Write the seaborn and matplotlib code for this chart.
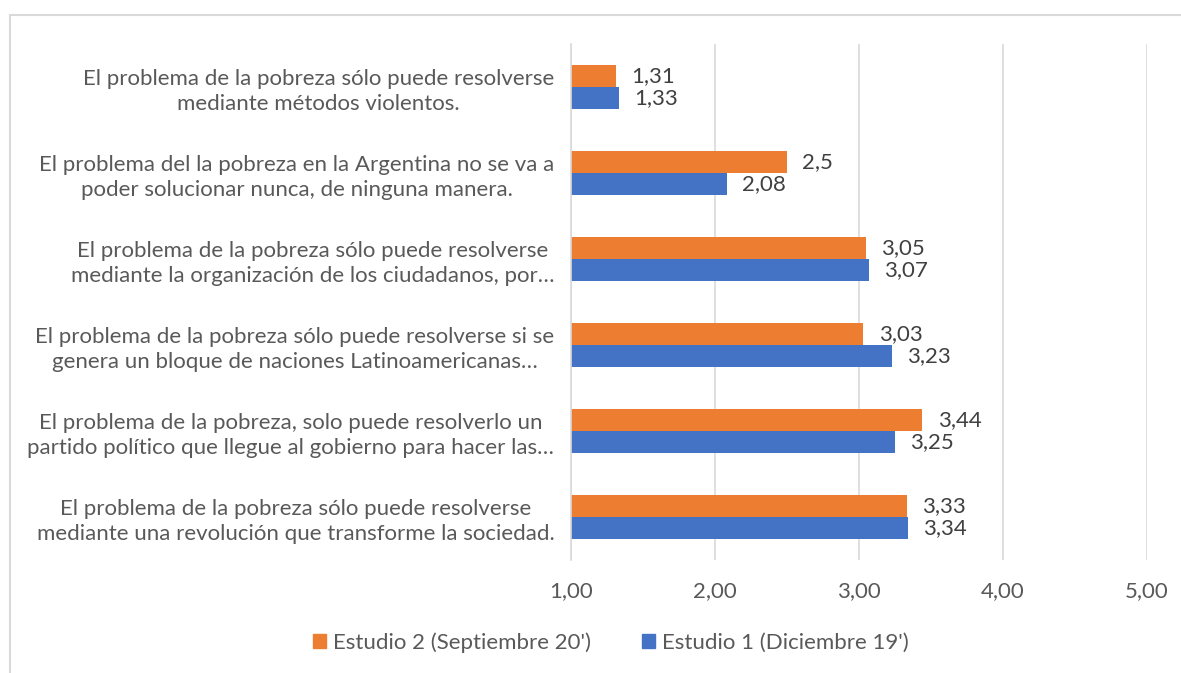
import pandas as pd
import matplotlib.pyplot as plt
import seaborn as sns
from matplotlib.patches import Rectangle

# Data
categorias = [
    'El problema de la pobreza sólo puede resolverse\nmediante métodos violentos.',
    'El problema del la pobreza en la Argentina no se va a\npoder solucionar nunca, de ninguna manera.',
    'El problema de la pobreza sólo puede resolverse\nmediante la organización de los ciudadanos, por…',
    'El problema de la pobreza sólo puede resolverse si se\ngenera un bloque de naciones Latinoamericanas…',
    'El problema de la pobreza, solo puede resolverlo un\npartido político que llegue al gobierno para hacer las…',
    'El problema de la pobreza sólo puede resolverse\nmediante una revolución que transforme la sociedad.',
]
estudio2 = [1.31, 2.5, 3.05, 3.03, 3.44, 3.33]
estudio1 = [1.33, 2.08, 3.07, 3.23, 3.25, 3.34]
series = ["Estudio 2 (Septiembre 20')", "Estudio 1 (Diciembre 19')"]
colores = ['#ED7D31', '#4472C4']
xticks = [1, 2, 3, 4, 5]

df = pd.DataFrame({
    'categoria': categorias * 2,
    'valor': estudio2 + estudio1,
    'serie': [series[0]] * len(categorias) + [series[1]] * len(categorias),
})

sns.set_style('white')
plt.rcParams['font.family'] = ['Lato', 'DejaVu Sans']
texto = '#595959'
fs = 16

fig = plt.figure(figsize=(11.81, 6.73), dpi=100)
ax = fig.add_axes([0.4835, 0.168, 0.4877, 0.767])

sns.barplot(data=df, y='categoria', x='valor', hue='serie', order=categorias,
            hue_order=series, palette=colores, orient='h', width=0.51,
            gap=0, saturation=1, ax=ax, edgecolor='none')

ax.set_xlim(1, 5)
ax.set_xticks(xticks)
ax.set_xticklabels([f'{t:.2f}'.replace('.', ',') for t in xticks])
ax.xaxis.grid(True, color='#d9d9d9', linewidth=1.2)
ax.set_axisbelow(True)
for s in ['top', 'right', 'bottom']:
    ax.spines[s].set_visible(False)
ax.spines['left'].set_color('#d9d9d9')
ax.spines['left'].set_linewidth(1.2)
ax.tick_params(axis='x', length=0, pad=15, labelsize=fs, labelcolor=texto)
ax.tick_params(axis='y', length=0, pad=12, labelsize=fs, labelcolor=texto)
for lbl in ax.get_yticklabels():
    lbl.set_multialignment('center')
    lbl.set_linespacing(1.3)
ax.set_xlabel('')
ax.set_ylabel('')

for cont in ax.containers:
    etiquetas = [f'{v:g}'.replace('.', ',') for v in cont.datavalues]
    ax.bar_label(cont, labels=etiquetas, padding=11, fontsize=fs, color='#404040')

ax.legend_.remove()
handles = [Rectangle((0, 0), 1, 1, color=c) for c in colores]
fig.legend(handles, series, loc='center', bbox_to_anchor=(0.517, 0.045), ncol=2,
           frameon=False, fontsize=fs, labelcolor=texto, handlelength=0.6,
           handleheight=0.6, handletextpad=0.3, columnspacing=2.3)

# chart frame
fig.patches.append(Rectangle((10 / 1181, -0.1), 1.2, 1 - 15 / 673 + 0.1,
                             transform=fig.transFigure, fill=False,
                             edgecolor='#d9d9d9', linewidth=1.5))

fig.savefig('out.png', dpi=100)
